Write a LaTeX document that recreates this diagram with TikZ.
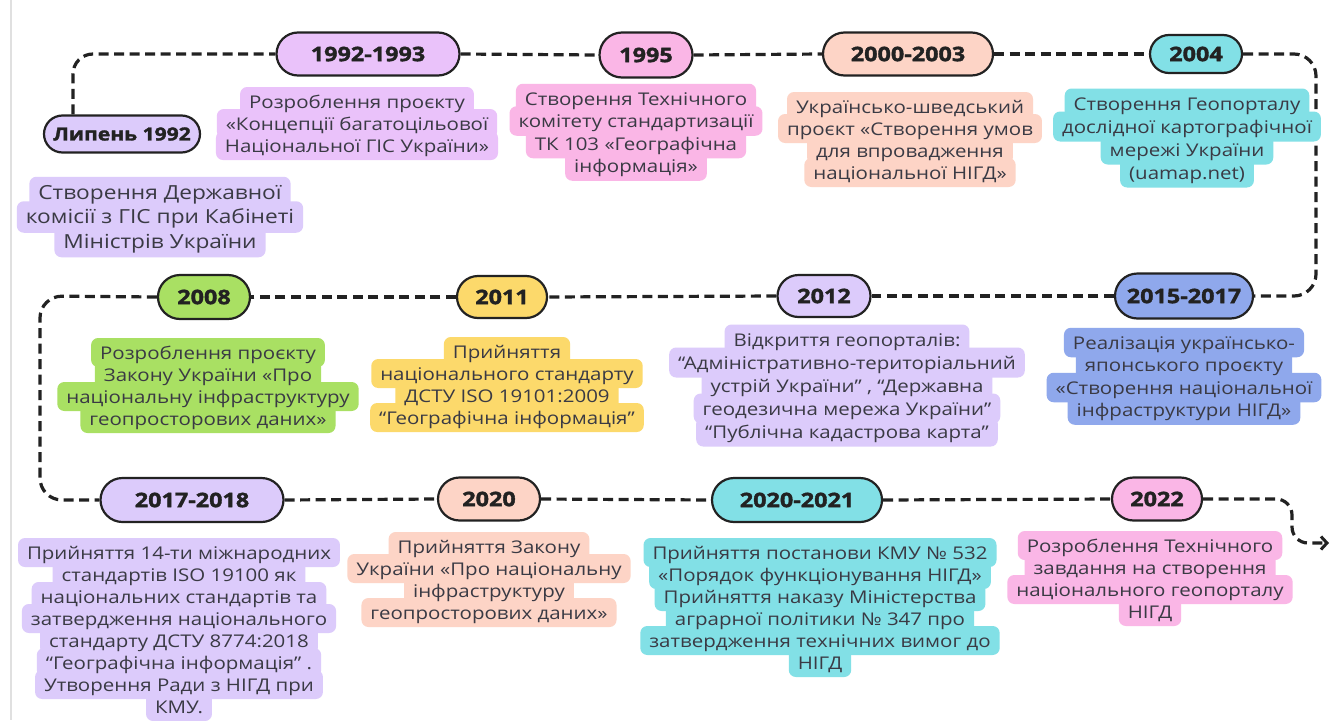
\documentclass[tikz,border=0pt]{standalone}
\usepackage{fontspec}
\setmainfont{Open Sans}[FakeStretch=1.17, BoldFeatures={FakeBold=1.8}]
\usetikzlibrary{shapes.misc,arrows.meta}
\definecolor{lav}{HTML}{DCCBFB}
\definecolor{orch}{HTML}{EAC2FA}
\definecolor{pinkc}{HTML}{FAB6E6}
\definecolor{peach}{HTML}{FDD4C6}
\definecolor{cyanc}{HTML}{82E0E6}
\definecolor{bluec}{HTML}{8FA8EC}
\definecolor{greenc}{HTML}{A9E063}
\definecolor{yellc}{HTML}{FCD96B}
\definecolor{ink}{HTML}{222222}
\definecolor{txt}{HTML}{3A3A44}
\tikzset{
  pill/.style={rounded rectangle, draw=ink, line width=2.2pt, text=ink, inner sep=0pt,
    font=\fontsize{20}{22}\selectfont\bfseries},
  dline/.style={rectangle, rounded corners=7pt, inner xsep=9pt, inner ysep=0pt,
    text=txt, text height=16pt, text depth=3pt, font=\fontsize{17.5}{22}\selectfont},
  tl/.style={draw=ink, line width=3.2pt, dash pattern=on 10pt off 5.5pt},
}
\newcommand{\descr}[6]{%
  \pgfmathsetmacro{\hh}{#6+7}%
  \foreach \tline [count=\k] in {#5} {
    \node[dline, fill=#4, text opacity=0, minimum height=\hh pt, anchor=base] (#1-b\k) at (#2, {#3+(\k-1)*#6}) {\tline};
  }%
  \foreach \tline [count=\k] in {#5} {
    \node[dline, minimum height=\hh pt, anchor=base] (#1-\k) at (#2, {#3+(\k-1)*#6}) {\tline};
  }%
}
\begin{document}
\begin{tikzpicture}[x=1pt, y=-1pt]
\useasboundingbox (0,0) rectangle (1330,720);
\fill[white] (0,0) rectangle (1330,720);
\draw[black!12, line width=2.5pt] (11,0) -- (11,720);

% pills
\node[pill, fill=lav, minimum width=156pt, minimum height=37pt, font=\fontsize{18}{22}\selectfont\bfseries] (lip) at (122,134) {Липень 1992};
\node[pill, fill=orch, minimum width=183pt, minimum height=43pt] (p1) at (368,54) {1992-1993};
\node[pill, fill=pinkc, minimum width=93pt, minimum height=45pt] (p2) at (646,55) {1995};
\node[pill, fill=peach, minimum width=170pt, minimum height=43pt] (p3) at (908,54) {2000-2003};
\node[pill, fill=cyanc, minimum width=92pt, minimum height=38pt] (p4) at (1196,54) {2004};
\node[pill, fill=bluec, minimum width=138pt, minimum height=45pt] (p5) at (1184,296) {2015-2017};
\node[pill, fill=lav, minimum width=93pt, minimum height=42pt] (p6) at (824,296) {2012};
\node[pill, fill=yellc, minimum width=90pt, minimum height=42pt] (p7) at (502,297) {2011};
\node[pill, fill=greenc, minimum width=92pt, minimum height=44pt] (p8) at (204,297) {2008};
\node[pill, fill=lav, minimum width=183pt, minimum height=44pt] (p9) at (192,500) {2017-2018};
\node[pill, fill=peach, minimum width=102pt, minimum height=43pt] (p10) at (489,499) {2020};
\node[pill, fill=cyanc, minimum width=170pt, minimum height=44pt] (p11) at (797,500) {2020-2021};
\node[pill, fill=pinkc, minimum width=90pt, minimum height=43pt] (p12) at (1157,499) {2022};

% timeline
\draw[tl, rounded corners=20pt] ([xshift=-49pt]lip.north) |- (p1.west);
\draw[tl] (p1.east) -- (p2.west);
\draw[tl] (p2.east) -- (p3.west);
\draw[tl] (p3.east) -- (p4.west);
\coordinate (rc) at (1316,296);
\draw[tl, rounded corners=22pt] (p4.east) -| (rc) -- (p5.east);
\draw[tl] (p5.west) -- (p6.east);
\draw[tl] (p6.west) -- (p7.east);
\draw[tl] (p7.west) -- (p8.east);
\coordinate (lc) at (40,296);
\draw[tl, rounded corners=22pt] (p8.west) -- (lc) |- (p9.west);
\draw[tl] (p9.east) -- (p10.west);
\draw[tl] (p10.east) -- (p11.west);
\draw[tl] (p11.east) -- (p12.west);
\coordinate (bend) at (1292,543);
\coordinate (tip) at (1329,543);
\draw[tl, rounded corners=16pt, -{Straight Barb[length=6pt,width=13pt,line width=3pt]}] (p12.east) -| (bend) -- (tip);

% descriptions
\begin{scope}[dline/.append style={font=\fontsize{19.4}{24}\selectfont}]
\descr{d0}{160}{199}{lav}{{Створення Державної},{комісії з ГІС при Кабінеті},{Міністрів України}}{24.5}
\end{scope}
\descr{d1}{357}{108}{orch}{{Розроблення проєкту},{«Концепції багатоцільової},{Національної ГІС України»}}{22}
\descr{d2}{636}{105}{pinkc}{{Створення Технічного},{комітету стандартизації},{ТК 103 «Географічна},{інформація»}}{22.5}
\descr{d3}{910}{113}{peach}{{Українсько-шведський},{проєкт «Створення умов},{для впровадження},{національної НІГД»}}{22}
\descr{d4}{1187}{110}{cyanc}{{Створення Геопорталу},{дослідної картографічної},{мережі України},{(uamap.net)}}{23}
\descr{d5}{1184}{349}{bluec}{{Реалізація українсько-},{японського проєкту},{«Створення національної},{інфраструктури НІГД»}}{22.5}
\descr{d6}{847}{346}{lav}{{Відкриття геопорталів:},{“Адміністративно-територіальний},{устрій України” , “Державна},{геодезична мережа України”},{“Публічна кадастрова карта”}}{23}
\descr{d7}{507}{358}{yellc}{{Прийняття},{національного стандарту},{ДСТУ ISO 19101:2009},{“Географічна інформація”}}{22}
\descr{d8}{208}{359}{greenc}{{Розроблення проєкту},{Закону України «Про},{національну інфраструктуру},{геопросторових даних»}}{22}
\descr{d9}{179}{559}{lav}{{Прийняття 14-ти міжнародних},{стандартів ISO 19100 як},{національних стандартів та},{затвердження національного},{стандарту ДСТУ 8774:2018},{“Географічна інформація” .},{Утворення Ради з НІГД при},{КМУ.}}{22}
\descr{d10}{489}{553}{peach}{{Прийняття Закону},{України «Про національну},{інфраструктуру},{геопросторових даних»}}{22}
\descr{d11}{820}{559}{cyanc}{{Прийняття постанови КМУ № 532},{«Порядок функціонування НІГД»},{Прийняття наказу Міністерства},{аграрної політики № 347 про},{затвердження технічних вимог до},{НІГД}}{22}
\descr{d12}{1150}{552}{pinkc}{{Розроблення Технічного},{завдання на створення},{національного геопорталу},{НІГД}}{22}
\end{tikzpicture}
\end{document}
